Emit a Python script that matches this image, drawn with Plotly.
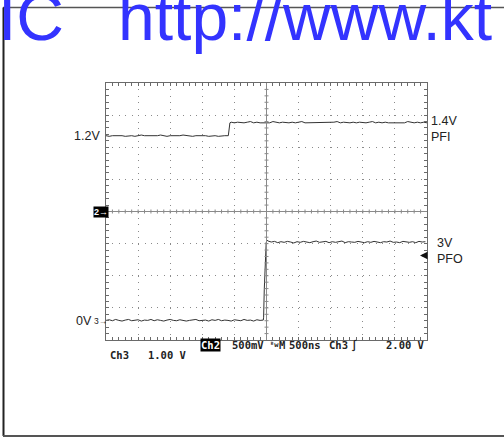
import numpy as np
import plotly.graph_objects as go

# ---------------- data (volts, time in ns) ----------------
step_ns = 50
ch2_low_t0 = -2500
ch2_low = [1.18, 1.17, 1.18, 1.18, 1.19, 1.18, 1.17, 1.18, 1.18, 1.17,
           1.18, 1.19, 1.18, 1.18, 1.17, 1.18, 1.18, 1.19, 1.18, 1.17,
           1.18, 1.18, 1.17, 1.18, 1.19, 1.18, 1.18, 1.17, 1.18, 1.18,
           1.19, 1.18, 1.17, 1.18, 1.18, 1.17, 1.18, 1.18]
ch2_edge_t = [-595, -585, -570]
ch2_edge_v = [1.18, 1.30, 1.38]
ch2_high_t0 = -550
ch2_high = [1.39, 1.38, 1.39, 1.38, 1.38, 1.39, 1.40, 1.38, 1.39, 1.38,
            1.38, 1.39, 1.38, 1.40, 1.39, 1.38, 1.39, 1.38, 1.38, 1.39,
            1.38, 1.39, 1.40, 1.38, 1.38, 1.39, 1.38, 1.39, 1.38, 1.38,
            1.39, 1.38, 1.39, 1.40, 1.38, 1.39, 1.38, 1.38, 1.39, 1.38,
            1.39, 1.38, 1.38, 1.39, 1.40, 1.38, 1.39, 1.38, 1.39, 1.38,
            1.38, 1.39, 1.38, 1.39, 1.38, 1.40, 1.39, 1.38, 1.39, 1.38,
            1.39, 1.38]

ch3_low_t0 = -2500
ch3_low = [0.00, 0.02, -0.01, 0.03, 0.00, -0.02, 0.01, 0.03, -0.01, 0.00,
           0.02, -0.02, 0.01, 0.00, 0.03, -0.01, 0.02, 0.00, -0.02, 0.01,
           0.03, 0.00, -0.01, 0.02, 0.01, -0.02, 0.00, 0.02, 0.03, -0.01,
           0.00, 0.01, -0.02, 0.02, 0.00, 0.03, -0.01, 0.01, 0.00, -0.02,
           0.02, 0.01, -0.01, 0.03, 0.00, 0.01, -0.02, 0.02, 0.00]
ch3_edge_t = [-50, -45, -35, -20, -5, 10]
ch3_edge_v = [0.01, 0.10, 0.95, 1.90, 2.42, 2.50]
ch3_high_t0 = 25
ch3_high = [2.47, 2.44, 2.46, 2.42, 2.45, 2.43, 2.46, 2.44, 2.41, 2.45,
            2.43, 2.46, 2.44, 2.42, 2.45, 2.47, 2.43, 2.44, 2.46, 2.42,
            2.45, 2.43, 2.44, 2.47, 2.42, 2.45, 2.44, 2.43, 2.46, 2.44,
            2.42, 2.45, 2.43, 2.46, 2.44, 2.42, 2.45, 2.44, 2.47, 2.43,
            2.44, 2.42, 2.46, 2.44, 2.43, 2.45, 2.42, 2.46, 2.44, 2.45]

ch2_volts_per_div = 0.5
ch3_volts_per_div = 1.0
ch2_pos_div = 0.0
ch3_pos_div = -3.39

def seg_times(t0, vals):
    return [t0 + step_ns * i for i in range(len(vals))]

ch2_t = seg_times(ch2_low_t0, ch2_low) + ch2_edge_t + seg_times(ch2_high_t0, ch2_high)
ch2_v = ch2_low + ch2_edge_v + ch2_high
ch3_t = seg_times(ch3_low_t0, ch3_low) + ch3_edge_t + seg_times(ch3_high_t0, ch3_high)
ch3_v = ch3_low + ch3_edge_v + ch3_high

ch2_y = [v / ch2_volts_per_div + ch2_pos_div for v in ch2_v]
ch3_y = [v / ch3_volts_per_div + ch3_pos_div for v in ch3_v]

# ---------------- figure ----------------
W, H = 504, 441
L, T, R, B = 106, 83, 427, 340
def px(x):
    return (x - L) / (R - L)
def py(y):
    return (B - y) / (B - T)

TRACE = "#333333"
GRID = "#8a8a8a"
BORDER = "#6a6a6a"

fig = go.Figure()
fig.add_trace(go.Scatter(x=ch2_t, y=ch2_y, mode="lines",
                         line=dict(color=TRACE, width=1), hoverinfo="skip"))
fig.add_trace(go.Scatter(x=ch3_t, y=ch3_y, mode="lines",
                         line=dict(color=TRACE, width=1), hoverinfo="skip"))

dash = "1px,5.425px"
axis_common = dict(showticklabels=False, zeroline=False, showline=True,
                   linecolor=BORDER, linewidth=1, mirror="ticks",
                   ticks="inside", ticklen=3, tickcolor=BORDER, tickwidth=1,
                   showgrid=True, gridcolor=GRID, gridwidth=1, griddash=dash,
                   fixedrange=True)
fig.update_xaxes(range=[-2500, 2500], tick0=-2500, dtick=500,
                 minor=dict(dtick=100, ticks="inside", ticklen=3,
                            tickcolor=BORDER, showgrid=False),
                 **axis_common)
fig.update_yaxes(range=[-4, 4], tick0=-4, dtick=1,
                 minor=dict(dtick=0.2, ticks="inside", ticklen=3,
                            tickcolor=BORDER, showgrid=False),
                 **axis_common)

shapes = []
# center cross lines
shapes.append(dict(type="line", xref="x", yref="y", x0=-2500, x1=2500, y0=0, y1=0,
                   line=dict(color=GRID, width=1)))
shapes.append(dict(type="line", xref="x", yref="y", x0=0, x1=0, y0=-4, y1=4,
                   line=dict(color=GRID, width=1)))
# center cross ticks
for k in range(1, 50):
    tx = -2500 + 100 * k
    shapes.append(dict(type="line", xref="x", yref="y", ysizemode="pixel", yanchor=0,
                       x0=tx, x1=tx, y0=-2, y1=2, line=dict(color=GRID, width=1)))
for k in range(1, 40):
    ty = -4 + 0.2 * k
    shapes.append(dict(type="line", xref="x", yref="y", xsizemode="pixel", xanchor=0,
                       x0=-2, x1=2, y0=ty, y1=ty, line=dict(color=GRID, width=1)))
# outer frame
shapes.append(dict(type="line", xref="paper", yref="paper", x0=px(3), x1=px(520),
                   y0=py(7.5), y1=py(7.5), line=dict(color="#555555", width=1.5), layer="above"))
shapes.append(dict(type="line", xref="paper", yref="paper", x0=px(3.5), x1=px(3.5),
                   y0=py(7.5), y1=py(436), line=dict(color="#222222", width=2), layer="above"))
shapes.append(dict(type="line", xref="paper", yref="paper", x0=px(3), x1=px(520),
                   y0=py(436), y1=py(436), line=dict(color="#555555", width=2), layer="above"))
fig.update_layout(shapes=shapes)

ann = []
SANS = "Liberation Sans, Arial, sans-serif"
MONO = "DejaVu Sans Mono, monospace"
TXT = "#222222"

def label(text, x, y, xanchor="left", size=12.5, font=SANS, color=TXT, **kw):
    ann.append(dict(text=text, x=px(x), y=py(y), xref="paper", yref="paper",
                    xanchor=xanchor, yanchor="middle", showarrow=False,
                    borderpad=0, font=dict(family=font, size=size, color=color), **kw))

# watermark
label("IC", -3.5, 16.5, size=66, color="#3333ff")
label("http://www.kt", 117, 16.5, size=66, color="#3333ff")

# channel labels
label("1.2V", 100.5, 135.5, xanchor="right")
label("1.4V", 429.5, 120.5)
label("PFI", 429.5, 137)
label("3V", 435.5, 243)
label("PFO", 435.5, 258.5)
label("0V", 92.5, 320.5, xanchor="right")
label("3→", 92.5, 320.5, size=8.5)
label("<b>2→</b>", 93, 211.5, size=9, color="white", bgcolor="black")
ann.append(dict(x=px(420), y=py(255.5), xref="paper", yref="paper", text="",
                showarrow=True, ax=7, ay=0, arrowhead=2, arrowsize=1,
                arrowwidth=1.5, arrowcolor="#111111"))

# bottom status line
label("<b>Ch2</b>", 200, 345, size=10.5, font=MONO, color="white", bgcolor="black")
label("<b>500mV</b>", 230.5, 345, size=10.5, font=MONO)
label("<b>ᴮw</b>", 268.5, 345, size=7, font=MONO)
label("<b>M</b>", 277.5, 345, size=10.5, font=MONO)
label("<b>500ns</b>", 287.5, 345, size=10.5, font=MONO)
label("<b>Ch3</b>", 327.5, 345, size=10.5, font=MONO)
label("<b>∫</b>", 350, 345, size=10.5, font=MONO)
label("<b>2.00 V</b>", 425.5, 345, xanchor="right", size=10.5, font=MONO)
label("<b>Ch3   1.00 V</b>", 109, 354.5, size=10.5, font=MONO)

fig.update_layout(annotations=ann, width=W, height=H,
                  margin=dict(l=L, r=W - R, t=T, b=H - B),
                  paper_bgcolor="white", plot_bgcolor="white",
                  showlegend=False)

fig.write_html("out.html", config={"displayModeBar": False},
               post_script="document.body.style.margin='0px';document.body.style.overflow='hidden';")
